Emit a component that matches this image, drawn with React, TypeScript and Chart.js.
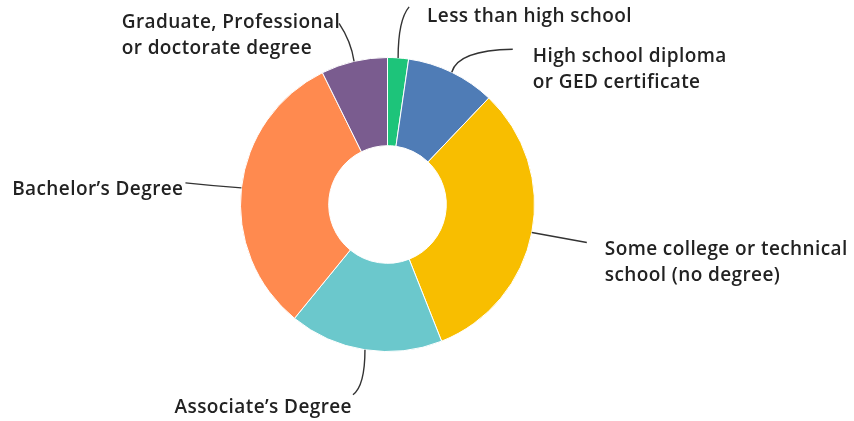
import React, { useEffect, useRef } from "react";
import Chart from "chart.js/auto";

const categories = [
  "Less than high school",
  "High school diploma or GED certificate",
  "Some college or technical school (no degree)",
  "Associate’s Degree",
  "Bachelor’s Degree",
  "Graduate, Professional or doctorate degree",
];
const labelLines = [
  ["Less than high school"],
  ["High school diploma", "or GED certificate"],
  ["Some college or technical", "school (no degree)"],
  ["Associate’s Degree"],
  ["Bachelor’s Degree"],
  ["Graduate, Professional", "or doctorate degree"],
];
const shares = [2.3, 9.8, 31.9, 16.9, 31.8, 7.3];
const colors = ["#1dc47a", "#4f7cb6", "#f8be00", "#6bc8cc", "#ff8a4f", "#7a5c8f"];

// leader layout: end offset from arc edge, control offset from edge, text placement relative to end
const leaderLayout = [
  { end: [11, -51], ctrl: [0, -38], align: "left", tx: 18, ty: 15 },
  { end: [61, -23], ctrl: [6, -22], align: "left", tx: 20, ty: 13 },
  { end: [55, 10], ctrl: [27, 5], align: "left", tx: 18, ty: 13 },
  { end: [-12, 45], ctrl: [0, 36], align: "right", tx: -1, ty: 18 },
  { end: [-56, -5], ctrl: [-28, -2], align: "right", tx: -2, ty: 12 },
  { end: [-15, -38], ctrl: [-3, -20], align: "blockRight", tx: 1, ty: 5 },
];

const FONT = "600 19px 'Open Sans'";
const LETTER_SPACING = "0.4px";
const LINE_H = 26;

const leaderPlugin = {
  id: "leaders",
  afterDraw(chart: any) {
    const ctx = chart.ctx;
    const meta = chart.getDatasetMeta(0);
    ctx.save();
    ctx.font = FONT;
    try {
      (ctx as any).letterSpacing = LETTER_SPACING;
    } catch (e) {}
    meta.data.forEach((arc: any, i: number) => {
      const { x, y, startAngle, endAngle, outerRadius } = arc.getProps(
        ["x", "y", "startAngle", "endAngle", "outerRadius"],
        true
      );
      const mid = (startAngle + endAngle) / 2;
      const ex = x + Math.cos(mid) * outerRadius;
      const ey = y + Math.sin(mid) * outerRadius;
      const L = leaderLayout[i];
      const endX = ex + L.end[0];
      const endY = ey + L.end[1];
      ctx.strokeStyle = "#333333";
      ctx.lineWidth = 1.4;
      ctx.beginPath();
      ctx.moveTo(ex, ey);
      ctx.quadraticCurveTo(ex + L.ctrl[0], ey + L.ctrl[1], endX, endY);
      ctx.stroke();

      ctx.fillStyle = "#222222";
      ctx.textBaseline = "alphabetic";
      const lines = labelLines[i];
      const maxW = Math.max(...lines.map((s) => ctx.measureText(s).width));
      lines.forEach((s, j) => {
        const by = endY + L.ty + j * LINE_H;
        if (L.align === "left") {
          ctx.textAlign = "left";
          ctx.fillText(s, endX + L.tx, by);
        } else if (L.align === "right") {
          ctx.textAlign = "right";
          ctx.fillText(s, endX + L.tx, by);
        } else {
          ctx.textAlign = "left";
          ctx.fillText(s, endX + L.tx - maxW, by);
        }
      });
    });
    ctx.restore();
  },
};

export default function App() {
  const ref = useRef<HTMLCanvasElement>(null);
  useEffect(() => {
    if (!ref.current) return;
    const chart = new Chart(ref.current, {
      type: "doughnut",
      data: {
        labels: categories,
        datasets: [
          {
            data: shares,
            backgroundColor: colors,
            borderColor: "#ffffff",
            borderWidth: 1,
          },
        ],
      },
      options: {
        animation: false,
        responsive: true,
        maintainAspectRatio: false,
        cutout: "40%",
        layout: { padding: { left: 240, right: 319, top: 57, bottom: 69 } },
        plugins: { legend: { display: false }, tooltip: { enabled: false } },
      },
      plugins: [leaderPlugin],
    });
    return () => chart.destroy();
  }, []);
  return (
    <div style={{ position: "absolute", left: 0, top: 0, width: 854, height: 421, background: "#fff" }}>
      <canvas ref={ref} />
    </div>
  );
}
